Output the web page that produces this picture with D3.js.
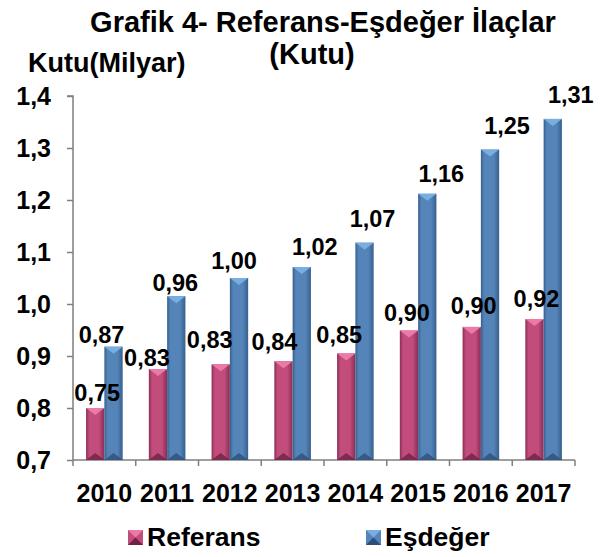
<!DOCTYPE html>
<html>
<head>
<meta charset="utf-8">
<script src="https://cdn.jsdelivr.net/npm/d3@7"></script>
<style>
  body { margin: 0; background: #fff; }
  text { font-family: "Liberation Sans", Arial, sans-serif; font-weight: bold; fill: #000; }
</style>
</head>
<body>
<div class="main"></div>
<script>
const years = ["2010", "2011", "2012", "2013", "2014", "2015", "2016", "2017"];
// bar heights as drawn in the picture
const referans = [0.800, 0.875, 0.884, 0.890, 0.905, 0.949, 0.956, 0.971];
const esdeger = [0.918, 1.015, 1.050, 1.071, 1.118, 1.212, 1.297, 1.356];
// printed value labels
const referansLabels = ["0,75", "0,83", "0,83", "0,84", "0,85", "0,90", "0,90", "0,92"];
const esdegerLabels = ["0,87", "0,96", "1,00", "1,02", "1,07", "1,16", "1,25", "1,31"];
const yTicks = [0.7, 0.8, 0.9, 1.0, 1.1, 1.2, 1.3, 1.4];
const seriesNames = ["Referans", "Eşdeğer"];

// label nudges (px) as placed in the original
const refDx = [2, -11, -11, -9, -7, -2, 2, 2];
const refDy = [-7, -3, -16, -11, -10, -10, -13, -12];
const esDx = [-12, -1, -5, 13, 8, 14, 17, 18];
const esDy = [-4, -5, -9, -12, -16, -12, -16, -16];

const fullwidth = 602, fullheight = 557;
const svg = d3.select(".main").append("svg")
  .attr("width", fullwidth)
  .attr("height", fullheight);

const defs = svg.append("defs");
const palette = {
  ref: { edge: "#8a2d55", mid: "#c24d7c", top: "#ec7aa8", bottom: "#6e2243" },
  es: { edge: "#36608f", mid: "#5585b8", top: "#78aee2", bottom: "#2c4f78" },
};
Object.keys(palette).forEach((k) => {
  const g = defs.append("linearGradient").attr("id", "grad_" + k)
    .attr("x1", "0%").attr("x2", "100%").attr("y1", "0%").attr("y2", "0%");
  g.append("stop").attr("offset", "0%").attr("stop-color", palette[k].edge);
  g.append("stop").attr("offset", "18%").attr("stop-color", palette[k].mid);
  g.append("stop").attr("offset", "70%").attr("stop-color", palette[k].mid);
  g.append("stop").attr("offset", "100%").attr("stop-color", palette[k].edge);
});

const x = d3.scaleBand().domain(years).range([73, 575]).padding(0);
const x1 = d3.scaleBand().domain(["ref", "es"]).range([0, x.bandwidth()])
  .paddingInner(0).paddingOuter(0.715);
const y = d3.scaleLinear().domain([0.7, 1.4]).range([460, 96]);

// title
svg.append("text").attr("x", 323).attr("y", 32).attr("text-anchor", "middle")
  .style("font-size", "29px").text("Grafik 4- Referans-Eşdeğer İlaçlar");
svg.append("text").attr("x", 312).attr("y", 64).attr("text-anchor", "middle")
  .style("font-size", "29px").text("(Kutu)");
svg.append("text").attr("x", 28).attr("y", 72)
  .style("font-size", "27px").text("Kutu(Milyar)");

// axes
const yAxis = svg.append("g").attr("transform", "translate(73,0)")
  .call(d3.axisLeft(y).tickValues(yTicks).tickSize(6).tickPadding(16)
    .tickFormat((d) => d3.format(".1f")(d).replace(".", ",")));
const xAxis = svg.append("g").attr("transform", "translate(0,460)")
  .call(d3.axisBottom(x).tickSize(0).tickPadding(24));
[yAxis, xAxis].forEach((a) => {
  a.select(".domain").attr("stroke", "#7f7f7f").attr("stroke-width", 1.5);
  a.selectAll("line").attr("stroke", "#7f7f7f").attr("stroke-width", 1.5);
  a.selectAll("text").attr("font-family", null).style("font-size", "25px").attr("fill", "#000");
});
yAxis.select(".domain").attr("d", "M-6,96H0V460");
xAxis.select(".domain").attr("d", "M73,0H575");
// category boundary ticks
xAxis.selectAll(".bound").data(years.concat(["end"])).join("line")
  .attr("class", "bound")
  .attr("x1", (d, i) => 73 + i * x.step()).attr("x2", (d, i) => 73 + i * x.step())
  .attr("y1", 0).attr("y2", 6)
  .attr("stroke", "#7f7f7f").attr("stroke-width", 1.5);

// bars with bevel look
function drawBars(values, key) {
  const g = svg.append("g");
  const bw = x1.bandwidth();
  const b = 7;
  const items = values.map((v, i) => ({ year: years[i], v: v }));
  g.selectAll(".bar").data(items).join("rect")
    .attr("x", (d) => x(d.year) + x1(key))
    .attr("y", (d) => y(d.v))
    .attr("width", bw)
    .attr("height", (d) => y(0.7) - y(d.v))
    .attr("fill", "url(#grad_" + key + ")");
  // top bevel
  g.selectAll(".top").data(items).join("path")
    .attr("fill", palette[key].top)
    .attr("d", (d) => {
      const x0 = x(d.year) + x1(key), y0 = y(d.v);
      return `M${x0},${y0}H${x0 + bw}L${x0 + bw / 2},${y0 + b}Z`;
    });
  // bottom bevel
  g.selectAll(".bot").data(items).join("path")
    .attr("fill", palette[key].bottom).attr("opacity", 0.8)
    .attr("d", (d) => {
      const x0 = x(d.year) + x1(key), y0 = y(0.7);
      return `M${x0},${y0}H${x0 + bw}L${x0 + bw / 2},${y0 - b}Z`;
    });
}
drawBars(referans, "ref");
drawBars(esdeger, "es");

// value labels
function drawLabels(values, labels, key, dx, dy) {
  svg.append("g").selectAll("text").data(values).join("text")
    .attr("x", (d, i) => x(years[i]) + x1(key) + x1.bandwidth() / 2 + dx[i])
    .attr("y", (d, i) => y(d) + dy[i])
    .attr("text-anchor", "middle")
    .style("font-size", "23.5px")
    .text((d, i) => labels[i]);
}
drawLabels(referans, referansLabels, "ref", refDx, refDy);
drawLabels(esdeger, esdegerLabels, "es", esDx, esDy);

// legend
const legend = svg.append("g");
const legendX = [128, 366];
seriesNames.forEach((name, i) => {
  const key = i === 0 ? "ref" : "es";
  legend.append("rect").attr("x", legendX[i]).attr("y", 530)
    .attr("width", 15).attr("height", 15).attr("fill", palette[key].mid);
  legend.append("path").attr("fill", palette[key].top)
    .attr("d", `M${legendX[i]},530H${legendX[i] + 15}L${legendX[i] + 7.5},537.5Z`);
  legend.append("path").attr("fill", palette[key].bottom)
    .attr("d", `M${legendX[i]},545H${legendX[i] + 15}L${legendX[i] + 7.5},537.5Z`);
  legend.append("text").attr("x", legendX[i] + 19).attr("y", 546)
    .style("font-size", "26.5px").text(name);
});
</script>
</body>
</html>
